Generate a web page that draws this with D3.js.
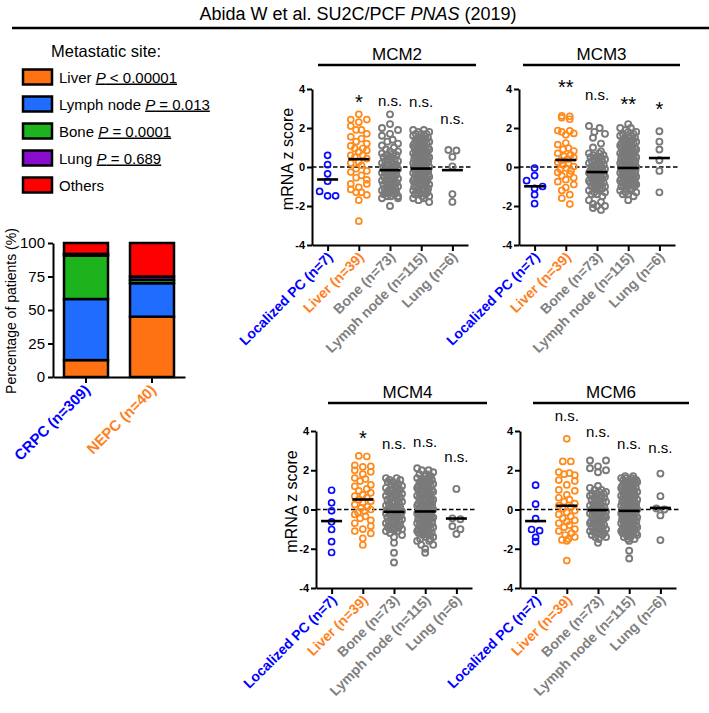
<!DOCTYPE html>
<html>
<head>
<meta charset="utf-8">
<script src="https://cdn.jsdelivr.net/npm/d3@7"></script>
<style>
  body { margin: 0; background: #fff; }
  svg { font-family: "Liberation Sans", Arial, sans-serif; }
</style>
</head>
<body>
<svg id="fig" width="709" height="713"></svg>
<script>
// ---- stacked bar (metastatic site) ----
var barCats = ['CRPC (n=309)', 'NEPC (n=40)'];
var sites = ['Liver', 'Lymph node', 'Bone', 'Lung', 'Others'];
var siteP = ['< 0.00001', '= 0.013', '= 0.0001', '= 0.689', null];
var crpcPct = [12.6, 45.6, 32.4, 1.3, 8.1];
var nepcPct = [45, 25, 2.5, 2.5, 25];
var pctTicks = [0, 25, 50, 75, 100];

// ---- scatter panels ----
var groups = ['Localized PC (n=7)', 'Liver (n=39)', 'Bone (n=73)', 'Lymph node (n=115)', 'Lung (n=6)'];
var zTicks = [-4, -2, 0, 2, 4];

var mcm2Local = [0.6, 0.12, -0.35, -0.73, -1.25, -1.48, -1.48];
var mcm2Liver = [2.7,2.43,2.43,2.3,2.1,1.9,1.9,1.7,1.55,1.45,1.3,1.2,1.08,0.95,0.95,0.85,0.78,0.6,0.6,0.5,0.43,0.26,0.2,0.09,-0.09,-0.2,-0.26,-0.43,-0.55,-0.66,-0.87,-0.87,-1.04,-1.15,-1.3,-1.3,-1.43,-1.7,-2.78];
var mcm2Bone = [2.7,2.2,2.0,1.9,1.7,1.6,1.4,1.3,1.2,1.1,1.0,0.9,
  0.8,0.8,0.7,0.7,0.6,0.6,0.5,0.5,0.4,0.4,0.3,0.3,0.3,0.2,0.2,0.1,0.1,0.1,0.0,0.0,
  -0.1,-0.1,-0.1,-0.2,-0.2,-0.3,-0.3,-0.3,-0.4,-0.4,-0.5,-0.5,-0.5,-0.6,-0.6,-0.7,-0.7,-0.7,
  -0.8,-0.8,-0.9,-0.9,-0.9,-1.0,-1.0,-1.1,-1.1,-1.1,-1.2,-1.2,-1.3,-1.3,-1.3,-1.4,-1.4,-1.5,-1.5,-1.5,-1.6,-1.6,
  -2.0];
var mcm2Lymph = [1.9,1.9,1.8,1.8,1.7,1.7,1.7,1.6,1.6,1.5,1.5,1.5,1.4,1.4,1.4,1.3,1.3,1.3,1.2,1.2,1.2,1.1,1.1,1.1,1.0,1.0,1.0,
  0.9,0.9,0.9,0.8,0.8,0.8,0.8,0.7,0.7,0.7,0.6,0.6,0.6,0.6,0.5,0.5,0.5,0.5,0.4,0.4,0.4,0.4,0.3,0.3,0.3,0.2,0.2,0.2,0.2,0.1,0.1,0.1,0.0,0.0,0.0,0.0,
  -0.1,-0.1,-0.1,-0.2,-0.2,-0.2,-0.2,-0.3,-0.3,-0.3,-0.4,-0.4,-0.4,-0.4,-0.5,-0.5,-0.5,-0.5,-0.6,-0.6,-0.6,-0.7,-0.7,-0.7,-0.7,-0.8,-0.8,-0.8,-0.9,-0.9,-0.9,
  -1.0,-1.0,-1.0,-1.0,-1.1,-1.1,-1.1,-1.2,-1.2,-1.2,-1.3,-1.3,-1.4,-1.4,-1.4,-1.5,-1.5,-1.6,-1.6,-1.7,-1.8];
var mcm2Lung = [0.87, 0.85, 0.52, 0.03, -1.39, -1.79];
var mcm2Means = [-0.64, 0.4, -0.16, -0.08, -0.16];
var mcm2Sig = ['', '*', 'n.s.', 'n.s.', 'n.s.'];
var mcm2SigAt = [null, 3.0, 3.13, 3.08, 2.2];

var mcm3Local = [-0.05, -0.44, -0.7, -1.0, -1.1, -1.42, -1.88];
var mcm3Liver = [2.62,2.6,2.52,2.45,1.87,1.85,1.8,1.72,1.65,1.23,1.15,0.97,0.9,0.82,0.7,0.62,0.55,0.48,0.4,0.33,0.25,0.18,0.1,0.02,-0.05,-0.12,-0.2,-0.28,-0.35,-0.45,-0.55,-0.65,-0.75,-0.9,-1.05,-1.2,-1.42,-1.6,-1.9];
var mcm3Bone = [2.1,2.0,1.8,1.7,1.5,1.2,1.0,0.8,
  0.7,0.7,0.6,0.6,0.5,0.5,0.5,0.4,0.4,0.3,0.3,0.3,0.2,0.2,0.1,0.1,0.1,0.0,0.0,0.0,
  -0.1,-0.1,-0.1,-0.2,-0.2,-0.2,-0.3,-0.3,-0.3,-0.4,-0.4,-0.4,-0.5,-0.5,-0.5,-0.6,-0.6,-0.6,-0.7,-0.7,-0.7,-0.8,-0.8,-0.8,
  -0.9,-0.9,-1.0,-1.0,-1.0,-1.1,-1.1,-1.2,-1.2,-1.3,-1.3,
  -1.4,-1.4,-1.5,-1.7,-1.8,-1.9,-2.0,-2.0,-2.1,-2.2];
var mcm3Lymph = [2.2,2.0,2.0,1.9,1.8,1.8,1.7,1.7,1.6,1.6,
  1.5,1.5,1.5,1.4,1.4,1.4,1.3,1.3,1.3,1.2,1.2,1.2,1.1,1.1,1.1,1.0,1.0,1.0,1.0,
  0.9,0.9,0.9,0.8,0.8,0.8,0.7,0.7,0.7,0.7,0.6,0.6,0.6,0.6,0.5,0.5,0.5,0.5,0.4,0.4,0.4,0.4,0.3,0.3,0.3,0.3,0.2,0.2,0.2,0.2,0.1,0.1,0.1,0.1,0.0,0.0,0.0,0.0,
  -0.1,-0.1,-0.1,-0.1,-0.2,-0.2,-0.2,-0.2,-0.3,-0.3,-0.3,-0.3,-0.4,-0.4,-0.4,-0.4,-0.5,-0.5,-0.5,-0.5,-0.6,-0.6,-0.6,-0.6,-0.7,-0.7,-0.7,-0.8,-0.8,-0.8,-0.8,-0.9,-0.9,-0.9,
  -1.0,-1.0,-1.0,-1.0,-1.1,-1.1,-1.2,-1.2,-1.3,-1.3,-1.4,-1.4,-1.5,-1.7];
var mcm3Lung = [1.83, 1.3, 0.9, 0.35, -0.2, -1.3];
var mcm3Means = [-0.99, 0.36, -0.26, -0.05, 0.46];
var mcm3Sig = ['', '**', 'n.s.', '**', '*'];
var mcm3SigAt = [null, 3.72, 3.43, 2.85, 2.59];

var mcm4Local = [0.98, 0.34, -0.07, -0.63, -1.02, -1.64, -2.19];
var mcm4Liver = [2.73,2.7,2.25,2.2,2.17,2.0,1.92,1.8,1.6,1.55,1.45,1.25,1.18,1.05,0.95,0.85,0.75,0.68,0.6,0.5,0.42,0.35,0.25,0.15,0.08,0.0,-0.08,-0.15,-0.25,-0.35,-0.45,-0.55,-0.7,-0.85,-1.0,-1.1,-1.22,-1.47,-1.81];
var mcm4Bone = [1.6,1.6,1.5,1.5,1.4,1.4,1.3,1.3,1.2,1.2,1.1,1.1,1.0,1.0,1.0,
  0.9,0.9,0.8,0.8,0.8,0.7,0.7,0.6,0.6,0.6,0.5,0.5,0.4,0.4,0.4,0.3,0.3,0.2,0.2,0.2,0.1,0.1,0.0,0.0,0.0,
  -0.1,-0.1,-0.2,-0.2,-0.2,-0.3,-0.3,-0.4,-0.4,-0.4,-0.5,-0.5,-0.6,-0.6,-0.6,-0.7,-0.7,-0.8,-0.8,-0.9,-0.9,-0.9,-1.0,-1.0,-1.0,
  -1.1,-1.1,-1.2,-1.3,-1.4,
  -1.7,-2.2,-2.7];
var mcm4Lymph = [2.1,2.0,2.0,1.9,1.8,1.8,1.7,1.7,1.6,1.6,
  1.5,1.5,1.5,1.4,1.4,1.4,1.3,1.3,1.3,1.2,1.2,1.2,1.1,1.1,1.1,1.0,1.0,1.0,
  0.9,0.9,0.9,0.8,0.8,0.8,0.7,0.7,0.7,0.6,0.6,0.6,0.5,0.5,0.5,0.5,0.4,0.4,0.4,0.3,0.3,0.3,0.3,0.2,0.2,0.2,0.1,0.1,0.1,0.1,0.0,0.0,0.0,0.0,
  -0.1,-0.1,-0.1,-0.1,-0.2,-0.2,-0.2,-0.3,-0.3,-0.3,-0.3,-0.4,-0.4,-0.4,-0.5,-0.5,-0.5,-0.5,-0.6,-0.6,-0.6,-0.7,-0.7,-0.7,-0.7,-0.8,-0.8,-0.8,-0.9,-0.9,-0.9,-0.9,
  -1.0,-1.0,-1.0,-1.1,-1.1,-1.1,-1.2,-1.2,-1.2,-1.3,-1.3,-1.4,-1.4,-1.5,-1.5,-1.6,-1.6,-1.8,-1.8,-2.0,-2.2];
var mcm4Lung = [1.05, -0.45, -0.5, -0.85, -1.0, -1.25];
var mcm4Means = [-0.59, 0.51, -0.12, -0.1, -0.46];
var mcm4Sig = ['', '*', 'n.s.', 'n.s.', 'n.s.'];
var mcm4SigAt = [null, 3.29, 3.06, 3.16, 2.4];

var mcm6Local = [1.24, 0.27, -0.46, -1.02, -1.08, -1.42, -1.64];
var mcm6Liver = [3.6,2.45,2.45,1.9,1.85,1.8,1.75,1.5,1.45,1.25,1.0,0.95,0.75,0.6,0.5,0.4,0.3,0.2,0.12,0.05,-0.05,-0.15,-0.25,-0.35,-0.45,-0.55,-0.62,-0.7,-0.8,-0.9,-1.0,-1.1,-1.2,-1.3,-1.4,-1.5,-1.55,-1.6,-2.6];
var mcm6Bone = [2.5,2.5,2.2,2.1,2.0,1.9,1.2,1.1,
  1.0,1.0,0.9,0.9,0.8,0.8,0.8,0.7,0.7,0.6,0.6,0.5,0.5,0.4,0.4,0.4,0.3,0.3,0.2,0.2,0.2,0.1,0.1,0.0,0.0,0.0,
  -0.1,-0.1,-0.1,-0.2,-0.2,-0.2,-0.3,-0.3,-0.3,-0.4,-0.4,-0.4,-0.5,-0.5,-0.5,-0.6,-0.6,-0.6,-0.7,-0.7,-0.7,
  -0.8,-0.8,-0.9,-0.9,-0.9,-1.0,-1.0,-1.1,-1.1,-1.1,-1.2,-1.2,-1.3,-1.3,-1.4,-1.4,-1.5,-1.7];
var mcm6Lymph = [1.7,1.7,1.6,1.6,1.6,1.5,1.5,1.5,1.5,1.4,1.4,1.4,1.3,1.3,1.3,1.2,1.2,1.2,1.1,1.1,1.1,1.1,1.0,1.0,1.0,
  0.9,0.9,0.9,0.8,0.8,0.8,0.7,0.7,0.7,0.7,0.6,0.6,0.6,0.5,0.5,0.5,0.4,0.4,0.4,0.4,0.3,0.3,0.3,0.3,0.2,0.2,0.2,0.1,0.1,0.1,0.1,0.0,0.0,0.0,0.0,0.0,
  -0.1,-0.1,-0.1,-0.1,-0.2,-0.2,-0.2,-0.2,-0.3,-0.3,-0.3,-0.3,-0.4,-0.4,-0.4,-0.4,-0.5,-0.5,-0.5,-0.5,-0.6,-0.6,-0.6,-0.6,-0.7,-0.7,-0.7,-0.8,-0.8,-0.8,-0.8,-0.9,-0.9,-0.9,
  -1.0,-1.0,-1.0,-1.0,-1.1,-1.1,-1.1,-1.2,-1.2,-1.2,-1.2,-1.3,-1.3,-1.4,-1.4,-1.5,-1.5,-1.6,-2.1,-2.5];
var mcm6Lung = [1.83, 0.68, 0.05, 0.0, -0.3, -1.56];
var mcm6Means = [-0.59, 0.19, -0.03, -0.07, 0.08];
var mcm6Sig = ['', 'n.s.', 'n.s.', 'n.s.', 'n.s.'];
var mcm6SigAt = [null, 4.49, 3.67, 3.06, 2.9];

// ---- colours ----
var siteColor = ['#ff7214', '#1f6cff', '#1cb31c', '#8a0ccf', '#ff0000'];
var groupColor = ['#0a0aff', '#ff8a1c', '#7a7a7a', '#7a7a7a', '#7a7a7a'];
var labelColor = ['#0000ff', '#ff7f1e', '#808080', '#808080', '#808080'];

var panels = [
  {gene: 'MCM2', sets: [mcm2Local, mcm2Liver, mcm2Bone, mcm2Lymph, mcm2Lung], means: mcm2Means, sig: mcm2Sig, sigAt: mcm2SigAt,
   x0: 312, x1: 468, yb: 245, yt: 89, line: [318, 476], lineY: 65, ylab: true},
  {gene: 'MCM3', sets: [mcm3Local, mcm3Liver, mcm3Bone, mcm3Lymph, mcm3Lung], means: mcm3Means, sig: mcm3Sig, sigAt: mcm3SigAt,
   x0: 519, x1: 675, yb: 245, yt: 89, line: [523, 680], lineY: 65, ylab: false},
  {gene: 'MCM4', sets: [mcm4Local, mcm4Liver, mcm4Bone, mcm4Lymph, mcm4Lung], means: mcm4Means, sig: mcm4Sig, sigAt: mcm4SigAt,
   x0: 316, x1: 472, yb: 588, yt: 431, line: [328, 487], lineY: 403, ylab: true},
  {gene: 'MCM6', sets: [mcm6Local, mcm6Liver, mcm6Bone, mcm6Lymph, mcm6Lung], means: mcm6Means, sig: mcm6Sig, sigAt: mcm6SigAt,
   x0: 520, x1: 676, yb: 588, yt: 431, line: [533, 689], lineY: 403, ylab: false}
];

var svg = d3.select('#fig');

// title
var title = svg.append('text')
    .attr('x', 358).attr('y', 20)
    .attr('text-anchor', 'middle')
    .style('font-size', '18px');
title.append('tspan').text('Abida W et al. SU2C/PCF ');
title.append('tspan').style('font-style', 'italic').text('PNAS');
title.append('tspan').text(' (2019)');
svg.append('line')
    .attr('x1', 12).attr('x2', 709).attr('y1', 28).attr('y2', 28)
    .attr('stroke', '#000').attr('stroke-width', 2.5);

// legend
svg.append('text')
    .attr('x', 106).attr('y', 57)
    .attr('text-anchor', 'middle')
    .style('font-size', '16.5px')
    .text('Metastatic site:');

var legendY = d3.scalePoint().domain(sites).range([77, 185]);
sites.forEach(function(s, i) {
  var cy = legendY(s);
  svg.append('rect')
      .attr('x', 23).attr('y', cy - 7.5).attr('width', 29).attr('height', 15)
      .attr('fill', siteColor[i]).attr('stroke', '#000').attr('stroke-width', 2.5);
  var t = svg.append('text')
      .attr('x', 59).attr('y', cy + 5.5)
      .style('font-size', '15px');
  t.append('tspan').text(s + (siteP[i] ? ' ' : ''));
  if (siteP[i]) {
    var u = t.append('tspan').style('text-decoration', 'underline');
    u.append('tspan').style('font-style', 'italic').text('P');
    u.append('tspan').text(' ' + siteP[i]);
  }
});

// stacked bars
var barX = d3.scaleBand().domain(barCats).range([53, 185]).paddingInner(1 / 3).paddingOuter(1 / 6);
var barY = d3.scaleLinear().domain([0, 100]).range([377, 243]);
var barPct = [crpcPct, nepcPct];
var rows = barCats.map(function(c, i) {
  var r = {cat: c};
  sites.forEach(function(s, j) { r[s] = barPct[i][j]; });
  return r;
});
var stacked = d3.stack().keys(sites)(rows);

svg.append('g').selectAll('g')
    .data(stacked)
    .join('g')
    .attr('fill', function(d, i) { return siteColor[i]; })
    .selectAll('rect')
    .data(function(d) { return d; })
    .join('rect')
    .attr('x', function(d) { return barX(d.data.cat); })
    .attr('y', function(d) { return barY(d[1]); })
    .attr('width', barX.bandwidth())
    .attr('height', function(d) { return barY(d[0]) - barY(d[1]); })
    .attr('stroke', '#000').attr('stroke-width', 2.5);

var barAxisY = svg.append('g')
    .attr('transform', 'translate(53,0)')
    .call(d3.axisLeft(barY).tickValues(pctTicks).tickSize(5).tickSizeOuter(0).tickPadding(3));
barAxisY.select('.domain').attr('stroke-width', 2);
barAxisY.selectAll('.tick line').attr('stroke-width', 2);
barAxisY.selectAll('text').style('font-size', '15px').style('font-family', null).attr('fill', '#000');

var barAxisX = svg.append('g')
    .attr('transform', 'translate(0,377)')
    .call(d3.axisBottom(barX).tickSize(6).tickSizeOuter(0).tickFormat(''));
barAxisX.select('.domain').attr('stroke-width', 2);
barAxisX.selectAll('.tick line').attr('stroke-width', 2);

barCats.forEach(function(c, i) {
  var tx = barX(c) + barX.bandwidth() / 2;
  svg.append('text')
      .attr('transform', 'translate(' + (tx + 5) + ',' + (377 + 14) + ') rotate(-45)')
      .attr('text-anchor', 'end')
      .style('font-size', '15px').style('font-weight', 'bold')
      .attr('fill', labelColor[i])
      .text(c);
});

svg.append('text')
    .attr('transform', 'translate(16,311) rotate(-90)')
    .attr('text-anchor', 'middle')
    .style('font-size', '14px')
    .text('Percentage of patients (%)');

// column-scatter layout: points grouped in rows of binH px and spread sideways,
// squeezed together when a row would grow wider than 2*maxW.
// Slots are handed out in golden-ratio order so that neighbours in y spread out.
function columnScatter(vals, y, binH, step, maxW) {
  var pts = vals.map(function(v, i) { return {i: i, y: y(v)}; });
  var bins = d3.group(pts, function(d) { return Math.floor(d.y / binH); });
  var out = new Array(vals.length);
  bins.forEach(function(b) {
    b.sort(function(a, c) { return a.y - c.y; });
    var n = b.length;
    var s = n > 1 ? Math.min(step, 2 * maxW / (n - 1)) : 0;
    var keys = b.map(function(d, k) { return {d: d, key: (k * 0.618034) % 1}; });
    keys.sort(function(a, c) { return a.key - c.key; });
    keys.forEach(function(o, k) { out[o.d.i] = {x: (k - (n - 1) / 2) * s, y: o.d.y}; });
  });
  return out;
}

panels.forEach(function(p) {
  var g = svg.append('g');
  var x = d3.scalePoint().domain(groups).range([p.x0, p.x1]).padding(0.5);
  var y = d3.scaleLinear().domain([-4, 4]).range([p.yb, p.yt]);

  // gene title and bar
  g.append('text')
      .attr('x', (p.line[0] + p.line[1]) / 2).attr('y', p.lineY - 5)
      .attr('text-anchor', 'middle')
      .style('font-size', '17px')
      .text(p.gene);
  g.append('line')
      .attr('x1', p.line[0]).attr('x2', p.line[1])
      .attr('y1', p.lineY).attr('y2', p.lineY)
      .attr('stroke', '#000').attr('stroke-width', 2.5);

  // zero reference
  g.append('line')
      .attr('x1', p.x0).attr('x2', p.x1 + 3)
      .attr('y1', y(0)).attr('y2', y(0))
      .attr('stroke', '#000').attr('stroke-width', 1.4)
      .attr('stroke-dasharray', '4.5,2.5');

  groups.forEach(function(gr, gi) {
    var vals = p.sets[gi];
    var pos = columnScatter(vals, y, 9, 8, 8);
    g.append('g')
        .selectAll('circle')
        .data(pos)
        .join('circle')
        .attr('cx', function(d) { return x(gr) + d.x; })
        .attr('cy', function(d) { return d.y; })
        .attr('r', 3)
        .attr('fill', 'none')
        .attr('stroke', groupColor[gi])
        .attr('stroke-width', gi > 1 ? 1.9 : 1.7);

    g.append('line')
        .attr('x1', x(gr) - 10.5).attr('x2', x(gr) + 10.5)
        .attr('y1', y(p.means[gi])).attr('y2', y(p.means[gi]))
        .attr('stroke', '#000').attr('stroke-width', 2.6);

    if (p.sig[gi]) {
      var star = p.sig[gi].indexOf('*') >= 0;
      g.append('text')
          .attr('x', x(gr)).attr('y', y(p.sigAt[gi]))
          .attr('text-anchor', 'middle')
          .style('font-size', star ? '20px' : '15px')
          .text(p.sig[gi]);
    }

    g.append('text')
        .attr('transform', 'translate(' + (x(gr) + 6) + ',' + (p.yb + 13) + ') rotate(-45)')
        .attr('text-anchor', 'end')
        .style('font-size', '14px').style('font-weight', 'bold')
        .attr('fill', labelColor[gi])
        .text(gr);
  });

  var ay = g.append('g')
      .attr('transform', 'translate(' + p.x0 + ',0)')
      .call(d3.axisLeft(y).tickValues(zTicks).tickSize(5).tickSizeOuter(0).tickPadding(2)
        .tickFormat(function(d) { return String(d).replace('\u2212', '-'); }));
  ay.select('.domain').attr('stroke-width', 2);
  ay.selectAll('.tick line').attr('stroke-width', 2);
  ay.selectAll('text').style('font-size', '11px').style('font-weight', 'bold')
      .style('font-family', null).attr('fill', '#000');

  var ax = g.append('g')
      .attr('transform', 'translate(0,' + p.yb + ')')
      .call(d3.axisBottom(x).tickSize(6).tickSizeOuter(0).tickFormat(''));
  ax.select('.domain').attr('stroke-width', 2);
  ax.selectAll('.tick line').attr('stroke-width', 2);

  if (p.ylab) {
    g.append('text')
        .attr('transform', 'translate(' + (p.x0 - 19) + ',' + (y(0) - 8) + ') rotate(-90)')
        .attr('text-anchor', 'middle')
        .style('font-size', '16px')
        .text('mRNA z score');
  }
});
</script>
</body>
</html>
